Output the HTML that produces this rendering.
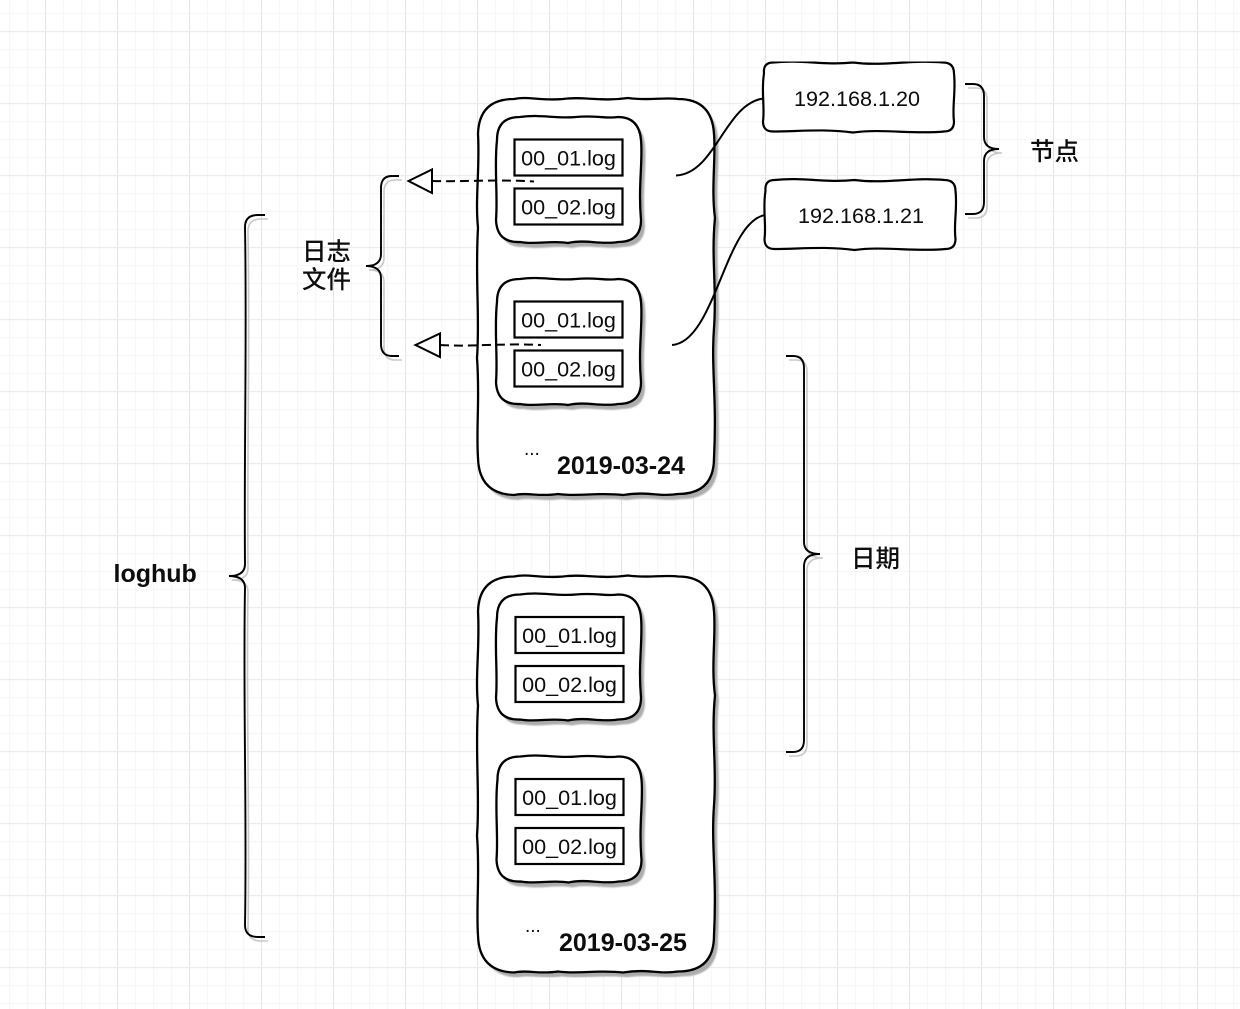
<!DOCTYPE html>
<html>
<head>
<meta charset="utf-8">
<style>
html,body{margin:0;padding:0;background:#fff;width:1240px;height:1009px;overflow:hidden}
svg{display:block}
text{font-family:"Liberation Sans","Noto Sans CJK SC",sans-serif;fill:#0a0a0a}
.l{font-size:21.6px;text-anchor:middle}
.b{font-size:25px;font-weight:bold}
.c{font-size:24.5px;font-weight:500}
</style>
</head>
<body>
<svg width="1240" height="1009" viewBox="0 0 1240 1009" xmlns="http://www.w3.org/2000/svg">
<defs>
<pattern id="minor" width="18" height="18" patternUnits="userSpaceOnUse" x="9" y="13">
<path d="M0.5 0V18M0 0.5H18" fill="none" stroke="#f7f7f7" stroke-width="1.2"/>
</pattern>
<pattern id="major" width="72" height="72" patternUnits="userSpaceOnUse" x="45" y="31">
<path d="M0.5 0V72" fill="none" stroke="#e4e4e4" stroke-width="1.1"/>
<path d="M0 0.5H72" fill="none" stroke="#ececec" stroke-width="1.2"/>
</pattern>
<filter id="s" x="-10%" y="-10%" width="120%" height="120%"><feGaussianBlur stdDeviation="0.7"/></filter>
<filter id="soft" x="0" y="0" width="100%" height="100%"><feGaussianBlur stdDeviation="0.3"/></filter>
<path id="outer" d="M36 1C50 -2 62 3 85 1C105 -2 122 4 150 0C170 3 185 -1 200 1Q234 1 236 36C238 60 233 90 237 120C233 160 239 190 236 230C233 270 239 300 236 360Q236 396 200 396C180 399 170 393 145 397C120 394 100 399 80 396C60 399 50 394 36 397Q1 396 0 360C-2 330 2 300 -1 260C2 220 -3 180 0 130C-3 100 2 70 0 36Q1 1 36 1Z"/>
<path id="inner" d="M24 1C45 -2 60 3 80 1C100 -1 110 3 122 1Q143 1 145 24C147 45 142 70 145 104Q145 126 122 126C105 129 90 123 72 127C55 124 40 129 24 126Q1 127 0 104C2 80 -2 50 1 24Q1 1 24 1Z"/>
<path id="node" d="M10 1C40 -2 60 4 90 1C120 5 150 -2 180 1Q191 1 191 12C193 30 189 45 191 60Q191 70 181 70C150 73 120 67 90 71C60 67 35 70 10 70Q0 70 0 60C2 45 -2 30 1 12Q0 1 10 1Z"/>
<g id="ob"><use href="#outer" x="4" y="5" fill="#adadad" filter="url(#s)"/><use href="#outer" fill="#fff" stroke="#000" stroke-width="2.3"/></g>
<g id="ib"><use href="#inner" x="4" y="5" fill="#adadad" filter="url(#s)"/><use href="#inner" fill="#fff" stroke="#000" stroke-width="2.3"/></g>
<g id="nb"><use href="#node" fill="#fff" stroke="#000" stroke-width="2.2"/></g>
</defs>

<rect width="1240" height="1009" fill="#fff"/>
<rect width="1240" height="1009" fill="url(#minor)"/>
<rect width="1240" height="1009" fill="url(#major)"/>

<g filter="url(#soft)">
<!-- date groups -->
<use href="#ob" x="478" y="98"/>
<use href="#ob" x="478" y="575.500"/>
<use href="#ib" x="496" y="116"/>
<use href="#ib" x="496" y="278"/>
<use href="#ib" x="496" y="593.500"/>
<use href="#ib" x="496.500" y="755.500"/>

<g fill="none" stroke="#000" stroke-width="2.2">
<rect x="514.500" y="139.500" width="108" height="36"/>
<rect x="514.500" y="188.500" width="108" height="36"/>
<rect x="514.500" y="301.500" width="108" height="36"/>
<rect x="514.500" y="350.500" width="108" height="36"/>
<rect x="515.500" y="617" width="108" height="36"/>
<rect x="515.500" y="666" width="108" height="36"/>
<rect x="515.500" y="779" width="108" height="36"/>
<rect x="515.500" y="828" width="108" height="36"/>
</g>
<text class="l" x="568.500" y="165.500">00_01.log</text>
<text class="l" x="568.500" y="214.500">00_02.log</text>
<text class="l" x="568.500" y="327.500">00_01.log</text>
<text class="l" x="568.500" y="376.500">00_02.log</text>
<text class="l" x="569.500" y="643">00_01.log</text>
<text class="l" x="569.500" y="692">00_02.log</text>
<text class="l" x="569.500" y="805">00_01.log</text>
<text class="l" x="569.500" y="854">00_02.log</text>

<text x="524" y="455" style="font-size:19px">...</text>
<text x="525" y="932" style="font-size:19px">...</text>
<text class="b" x="557" y="474">2019-03-24</text>
<text class="b" x="559" y="951">2019-03-25</text>

<!-- nodes -->
<use href="#nb" x="763" y="61.500"/>
<use href="#nb" x="764.500" y="179"/>
<text class="l" x="857" y="106">192.168.1.20</text>
<text class="l" x="861" y="223">192.168.1.21</text>

<!-- connectors -->
<g fill="none" stroke="#000" stroke-width="2">
<path d="M676 175.500C715 174 725 104 763 98.500"/>
<path d="M672 345C715 342 725 222 765 215"/>
</g>

<!-- dashed arrows -->
<g fill="none" stroke="#000" stroke-width="2">
<path d="M432 181C465 182 495 179 534 181.500" stroke-dasharray="9 5"/>
<path d="M440 345C470 347 505 343 541 345" stroke-dasharray="9 5"/>
<path d="M408.500 181L432 169.500V193Z" fill="#fff"/>
<path d="M415.500 345L440 333.500V357Z" fill="#fff"/>
</g>

<!-- brace shadows -->
<g fill="none" stroke="#c8c8c8" stroke-width="1.6" transform="translate(3,4)">
<path d="M399 176H392Q381 176 381 188V254Q381 266 366 266Q381 266 381 278V344Q381 356 392 356H399"/>
<path d="M265 215H258Q245 215 245 227C247 340 244 450 245 564Q245 576 229 576Q245 576 245 588C243 700 247 810 245 925Q245 937 258 937H265"/>
<path d="M786 356H793Q804 356 804 368V542Q804 554 820 554Q804 554 804 566V740Q804 752 793 752H786"/>
<path d="M965 84H973Q984 84 984 96V137Q984 149 999 149Q984 149 984 161V202Q984 214 973 214H965"/>
</g>
<!-- braces -->
<g fill="none" stroke="#000" stroke-width="1.9">
<path d="M399 176H392Q381 176 381 188V254Q381 266 366 266Q381 266 381 278V344Q381 356 392 356H399"/>
<path d="M265 215H258Q245 215 245 227C247 340 244 450 245 564Q245 576 229 576Q245 576 245 588C243 700 247 810 245 925Q245 937 258 937H265"/>
<path d="M786 356H793Q804 356 804 368V542Q804 554 820 554Q804 554 804 566V740Q804 752 793 752H786"/>
<path d="M965 84H973Q984 84 984 96V137Q984 149 999 149Q984 149 984 161V202Q984 214 973 214H965"/>
</g>

<!-- labels -->
<text class="b" x="113.500" y="582">loghub</text>
<text class="c" x="302" y="260">日志</text>
<text class="c" x="302" y="288">文件</text>
<text class="c" x="851" y="567">日期</text>
<text class="c" x="1030" y="160">节点</text>
</g>
</svg>
</body>
</html>
